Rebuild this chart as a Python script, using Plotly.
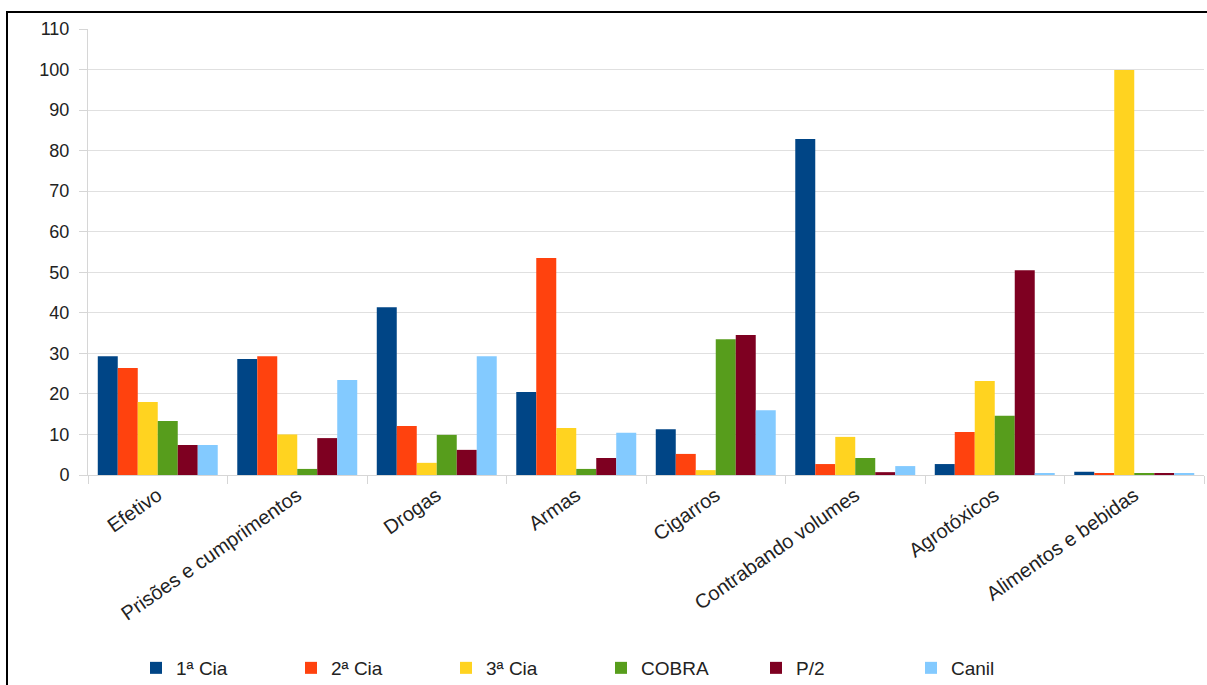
import plotly.graph_objects as go

categories = ["Efetivo", "Prisões e cumprimentos", "Drogas", "Armas", "Cigarros",
              "Contrabando volumes", "Agrotóxicos", "Alimentos e bebidas"]
series_names = ["1ª Cia", "2ª Cia", "3ª Cia", "COBRA", "P/2", "Canil"]
cia1 = [29.3, 28.6, 41.4, 20.5, 11.3, 82.9, 2.7, 0.8]
cia2 = [26.4, 29.3, 12.1, 53.5, 5.2, 2.7, 10.6, 0.3]
cia3 = [18.0, 10.0, 3.0, 11.6, 1.2, 9.4, 23.2, 99.9]
cobra = [13.3, 1.5, 9.9, 1.5, 33.5, 4.2, 14.6, 0.3]
p2 = [7.4, 9.1, 6.2, 4.2, 34.5, 0.7, 50.5, 0.3]
canil = [7.4, 23.4, 29.3, 10.4, 16.0, 2.2, 0.3, 0.3]
colors = ["#004586", "#ff420e", "#ffd320", "#579d1c", "#7e0021", "#83caff"]
y_ticks = list(range(0, 111, 10))

W, H = 1207, 685
L, R, T, B = 88, 3, 29, 210

fig = go.Figure()
for name, vals, c in zip(series_names, [cia1, cia2, cia3, cobra, p2, canil], colors):
    fig.add_trace(go.Bar(x=categories, y=vals, name=name, marker_color=c,
                         marker_line_width=0))

pw = W - L - R
ph = H - T - B
def px2paper_x(px):
    return (px - L) / pw
def px2paper_y(py):
    return (H - B - py) / ph

fig.update_layout(
    width=W, height=H,
    margin=dict(l=L, r=R, t=T, b=B, pad=0, autoexpand=False),
    paper_bgcolor="white", plot_bgcolor="white",
    barmode="group", bargap=0.14, bargroupgap=0,
    font=dict(family="Liberation Sans, Arial, sans-serif", size=18, color="#222"),
    legend=dict(orientation="h", x=px2paper_x(136), xanchor="left",
                y=px2paper_y(649), yanchor="top",
                entrywidth=110, entrywidthmode="pixels",
                itemwidth=30, bgcolor="rgba(0,0,0,0)",
                font=dict(size=19, color="#222"),
                traceorder="normal"),
    showlegend=True,
    shapes=[dict(type="rect", xref="paper", yref="paper",
                 x0=px2paper_x(7), x1=px2paper_x(1230),
                 y0=px2paper_y(700), y1=px2paper_y(12),
                 line=dict(color="black", width=2), fillcolor="rgba(0,0,0,0)",
                 layer="above")],
)
fig.update_yaxes(range=[0, 110], tickvals=y_ticks, showgrid=True, gridcolor="#e0e0e0",
                 gridwidth=1, zeroline=False, showline=True, linecolor="#d6d6d6",
                 ticks="outside", ticklen=8, tickcolor="#d6d6d6", ticklabelstandoff=6,
                 tickfont=dict(size=18, color="#222"))
fig.update_xaxes(tickangle=-35, showline=True, linecolor="#d6d6d6",
                 ticks="outside", ticklen=8, tickcolor="#d6d6d6", tickson="boundaries",
                 showgrid=False, tickfont=dict(size=20, color="#222"))

fig.write_html("out.html")
